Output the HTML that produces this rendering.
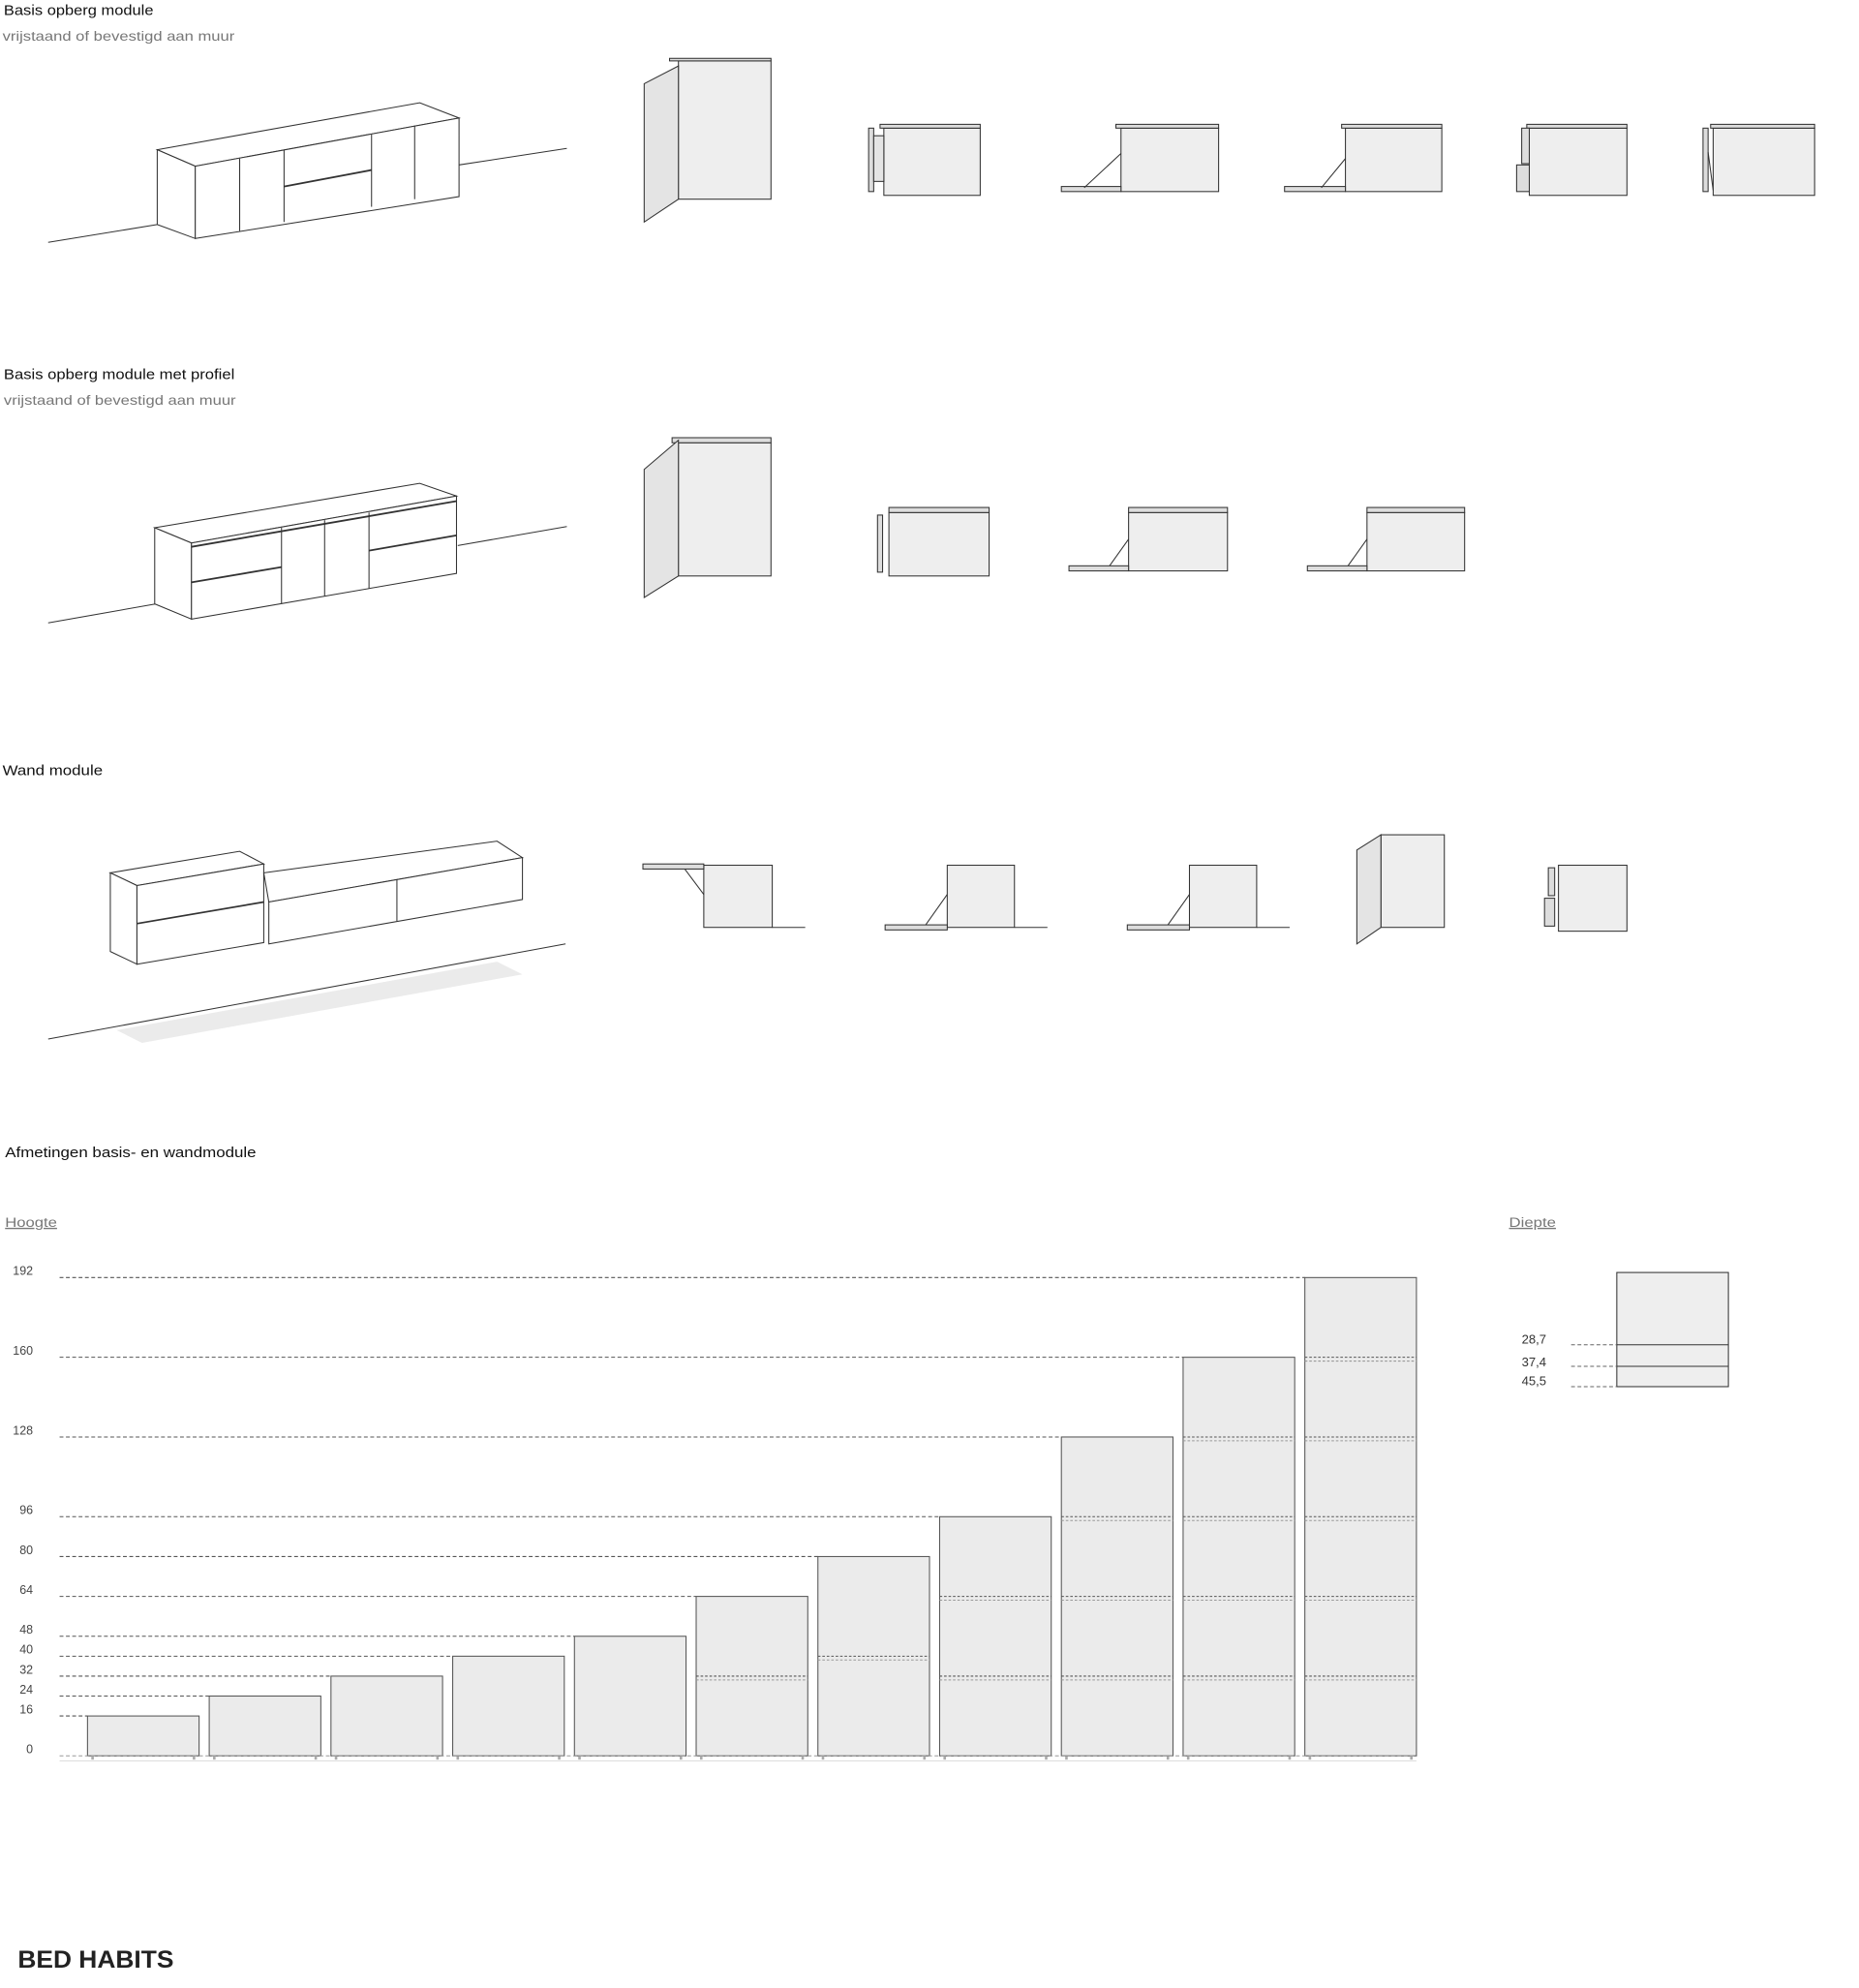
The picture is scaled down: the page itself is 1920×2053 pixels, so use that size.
<!DOCTYPE html>
<html><head><meta charset="utf-8"><style>
html,body{margin:0;padding:0;background:#fff;width:1920px;height:2053px;overflow:hidden}
svg{display:block}
text{font-family:"Liberation Sans",sans-serif}
</style></head><body>
<svg id="s" width="1920" height="2053" viewBox="0 0 1466 1567" preserveAspectRatio="none" xmlns="http://www.w3.org/2000/svg">
<g fill="none" stroke="#333" stroke-width="0.8">
<text x="3" y="12" font-size="11.5" fill="#111" stroke="none" textLength="118" lengthAdjust="spacingAndGlyphs">Basis opberg module</text>
<text x="2" y="32" font-size="10.5" fill="#777" stroke="none" textLength="183" lengthAdjust="spacingAndGlyphs">vrijstaand of bevestigd aan muur</text>
<text x="3" y="299" font-size="11.5" fill="#111" stroke="none" textLength="182" lengthAdjust="spacingAndGlyphs">Basis opberg module met profiel</text>
<text x="3" y="319" font-size="10.5" fill="#777" stroke="none" textLength="183" lengthAdjust="spacingAndGlyphs">vrijstaand of bevestigd aan muur</text>
<text x="2" y="611" font-size="11.5" fill="#111" stroke="none" textLength="79" lengthAdjust="spacingAndGlyphs">Wand module</text>
<text x="4" y="912" font-size="11.5" fill="#111" stroke="none" textLength="198" lengthAdjust="spacingAndGlyphs">Afmetingen basis- en wandmodule</text>
<text x="4" y="967" font-size="10.5" fill="#777" stroke="none" text-decoration="underline" textLength="41" lengthAdjust="spacingAndGlyphs">Hoogte</text>
<text x="1190" y="967" font-size="10.5" fill="#777" stroke="none" text-decoration="underline" textLength="37" lengthAdjust="spacingAndGlyphs">Diepte</text>
<text x="14" y="1551" font-size="19" font-weight="bold" fill="#222" stroke="none" textLength="123" lengthAdjust="spacingAndGlyphs">BED HABITS</text>

<line x1="38" y1="191" x2="124" y2="177"/><line x1="362" y1="130" x2="447" y2="117"/>
<polygon points="124,118 331,81 362,93 154,131" fill="#fff"/>
<polygon points="124,118 154,131 154,188 124,177" fill="#fff"/>
<polygon points="154,131 362,93 362,155 154,188" fill="#fff"/>
<line x1="189" y1="125" x2="189" y2="182"/><line x1="224" y1="118" x2="224" y2="175"/>
<line x1="293" y1="106" x2="293" y2="163"/><line x1="327" y1="99" x2="327" y2="157"/>
<line x1="224" y1="147" x2="293" y2="134" stroke-width="1.4"/>
<rect x="535" y="48" width="73" height="109" fill="#eee"/><rect x="528" y="46" width="80" height="2" fill="#ddd"/>
<polygon points="508,66 535,52 535,157 508,175" fill="#e4e4e4"/>
<rect x="697" y="101" width="76" height="53" fill="#eee"/><rect x="694" y="98" width="79" height="3" fill="#ddd"/>
<rect x="685" y="101" width="4" height="50" fill="#ddd"/><rect x="689" y="107" width="8" height="36" fill="#e4e4e4"/>
<rect x="884" y="101" width="77" height="50" fill="#eee"/><rect x="880" y="98" width="81" height="3" fill="#ddd"/>
<rect x="837" y="147" width="47" height="4" fill="#ddd"/><line x1="855" y1="148" x2="884" y2="121"/>
<rect x="1061" y="101" width="76" height="50" fill="#eee"/><rect x="1058" y="98" width="79" height="3" fill="#ddd"/>
<rect x="1013" y="147" width="48" height="4" fill="#ddd"/><line x1="1042" y1="148" x2="1061" y2="125"/>
<rect x="1206" y="101" width="77" height="53" fill="#eee"/><rect x="1204" y="98" width="79" height="3" fill="#ddd"/>
<rect x="1200" y="101" width="6" height="28" fill="#ddd"/><rect x="1196" y="130" width="10" height="21" fill="#ddd"/>
<rect x="1351" y="101" width="80" height="53" fill="#eee"/><rect x="1349" y="98" width="82" height="3" fill="#ddd"/>
<rect x="1343" y="101" width="4" height="50" fill="#ddd"/><line x1="1347" y1="120" x2="1351" y2="150"/>

<line x1="38" y1="491" x2="123" y2="476"/><line x1="361" y1="430" x2="447" y2="415"/>
<polygon points="122,416 331,381 360,391 151,428" fill="#fff"/>
<polygon points="122,416 151,428 151,488 122,476" fill="#fff"/>
<polygon points="151,428 360,391 360,452 151,488" fill="#fff"/>
<line x1="151" y1="431" x2="360" y2="395" stroke-width="1.4"/>
<line x1="222" y1="416" x2="222" y2="476"/><line x1="256" y1="410" x2="256" y2="470"/><line x1="291" y1="404" x2="291" y2="464"/>
<line x1="151" y1="459" x2="222" y2="447" stroke-width="1.4"/><line x1="291" y1="434" x2="360" y2="422" stroke-width="1.4"/>
<rect x="535" y="349" width="73" height="105" fill="#eee"/><rect x="530" y="345" width="78" height="4" fill="#ddd"/>
<polygon points="508,370 535,347 535,454 508,471" fill="#e4e4e4"/>
<rect x="701" y="404" width="79" height="50" fill="#eee"/><rect x="701" y="400" width="79" height="4" fill="#ddd"/>
<rect x="692" y="406" width="4" height="45" fill="#ddd"/>
<rect x="890" y="404" width="78" height="46" fill="#eee"/><rect x="890" y="400" width="78" height="4" fill="#ddd"/>
<rect x="843" y="446" width="47" height="4" fill="#ddd"/><line x1="875" y1="446" x2="890" y2="425"/>
<rect x="1078" y="404" width="77" height="46" fill="#eee"/><rect x="1078" y="400" width="77" height="4" fill="#ddd"/>
<rect x="1031" y="446" width="47" height="4" fill="#ddd"/><line x1="1063" y1="446" x2="1078" y2="425"/>

<polygon points="92,812 392,758 412,768 112,822" fill="#ebebeb" stroke="none"/>
<line x1="38" y1="819" x2="446" y2="744"/>
<polygon points="87,688 189,671 208,681 108,698" fill="#fff"/>
<polygon points="87,688 108,698 108,760 87,750" fill="#fff"/>
<polygon points="108,698 208,681 208,743 108,760" fill="#fff"/>
<line x1="108" y1="728" x2="208" y2="711" stroke-width="1.3"/>
<polygon points="208,688 392,663 412,676 212,711" fill="#fff"/>
<polygon points="212,711 412,676 412,709 212,744" fill="#fff"/>
<line x1="313" y1="693" x2="313" y2="726"/>
<rect x="555" y="682" width="54" height="49" fill="#eee"/><rect x="507" y="681" width="48" height="4" fill="#ddd"/>
<line x1="540" y1="685" x2="555" y2="705"/><line x1="609" y1="731" x2="635" y2="731"/>
<rect x="747" y="682" width="53" height="49" fill="#eee"/><rect x="698" y="729" width="49" height="4" fill="#ddd"/>
<line x1="730" y1="729" x2="747" y2="705"/><line x1="800" y1="731" x2="826" y2="731"/>
<rect x="938" y="682" width="53" height="49" fill="#eee"/><rect x="889" y="729" width="49" height="4" fill="#ddd"/>
<line x1="921" y1="729" x2="938" y2="705"/><line x1="991" y1="731" x2="1017" y2="731"/>
<rect x="1089" y="658" width="50" height="73" fill="#eee"/>
<polygon points="1070,670 1089,658 1089,731 1070,744" fill="#e4e4e4"/>
<rect x="1229" y="682" width="54" height="52" fill="#eee"/>
<rect x="1221" y="684" width="5" height="22" fill="#ddd"/><rect x="1218" y="708" width="8" height="22" fill="#ddd"/>

<rect x="1275" y="1003" width="88" height="90" fill="#eee"/>
<line x1="1275" y1="1060" x2="1363" y2="1060"/><line x1="1275" y1="1077" x2="1363" y2="1077"/>
<g stroke-dasharray="3,2" stroke="#666"><line x1="1239" y1="1060" x2="1275" y2="1060"/><line x1="1239" y1="1077" x2="1275" y2="1077"/><line x1="1239" y1="1093" x2="1275" y2="1093"/></g>
<text x="1200" y="1059" font-size="10" fill="#333" stroke="none">28,7</text>
<text x="1200" y="1077" font-size="10" fill="#333" stroke="none">37,4</text>
<text x="1200" y="1092" font-size="10" fill="#333" stroke="none">45,5</text>
<g id="chart"></g>
</g>
</svg>
<script>
var g=document.getElementById('chart'),h='';
function Y(v){return 1384-v*1.9635;}
var hs=[16,24,32,40,48,64,80,96,128,160,192];
var inner={5:[32],6:[40],7:[64,32],8:[96,64,32],9:[128,96,64,32],10:[160,128,96,64,32]};
var labs=[0,16,24,32,40,48,64,80,96,128,160,192];
labs.forEach(function(v){h+='<text x="26" y="'+(Y(v)-2)+'" font-size="9.5" fill="#444" stroke="none" text-anchor="end">'+v+'</text>';});
hs.forEach(function(v,i){var x=69+i*96;
h+='<line x1="47" y1="'+Y(v)+'" x2="'+x+'" y2="'+Y(v)+'" stroke="#555" stroke-dasharray="3,2"/>';
h+='<rect x="'+x+'" y="'+Y(v)+'" width="88" height="'+(v*1.9635)+'" fill="#ebebeb" stroke="#555"/>';
h+='<line x1="'+(x+4)+'" y1="1384" x2="'+(x+4)+'" y2="1387" stroke="#aaa" stroke-width="2"/><line x1="'+(x+84)+'" y1="1384" x2="'+(x+84)+'" y2="1387" stroke="#aaa" stroke-width="2"/>';
(inner[i]||[]).forEach(function(u){h+='<line x1="'+x+'" y1="'+Y(u)+'" x2="'+(x+88)+'" y2="'+Y(u)+'" stroke="#555" stroke-dasharray="2,1.5"/><line x1="'+x+'" y1="'+(Y(u)+3)+'" x2="'+(x+88)+'" y2="'+(Y(u)+3)+'" stroke="#999" stroke-dasharray="2,1.5"/>';});
});
h+='<line x1="47" y1="1384" x2="1117" y2="1384" stroke="#999" stroke-dasharray="3,2"/><line x1="47" y1="1388" x2="1117" y2="1388" stroke="#ddd"/>';
g.innerHTML=h;
</script>
</body></html>
